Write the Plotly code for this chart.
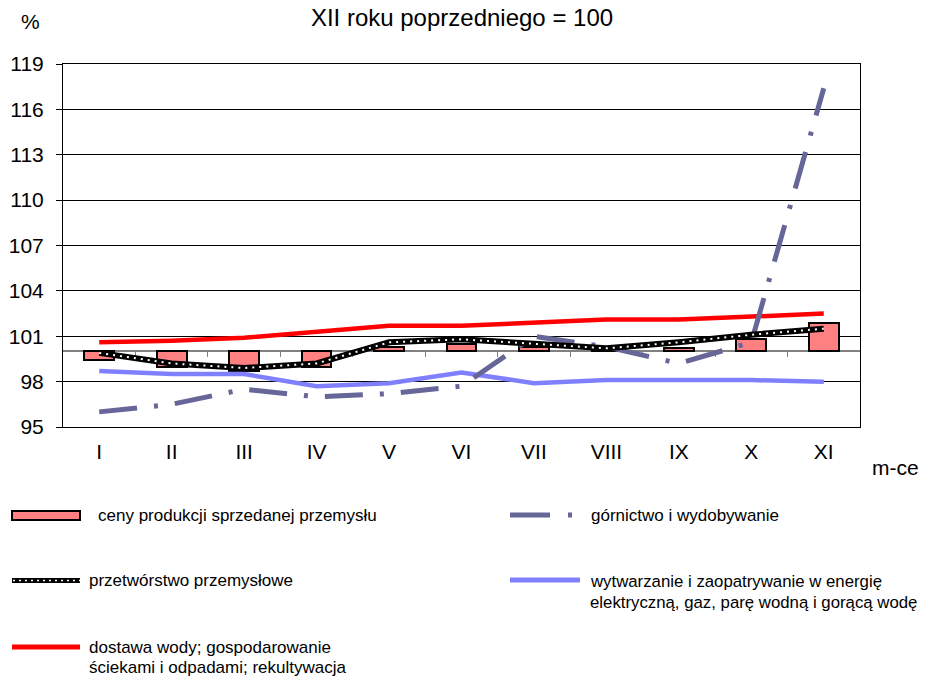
import plotly.graph_objects as go

# ---- data ----
months = ["I", "II", "III", "IV", "V", "VI", "VII", "VIII", "IX", "X", "XI"]
ceny_produkcji = [99.4, 99.0, 98.7, 99.0, 100.3, 100.5, 100.3, 100.1, 100.2, 100.8, 101.9]
gornictwo = [96.0, 96.5, 97.5, 97.0, 97.2, 97.7, 101.0, 100.3, 99.2, 100.6, 117.4]
przetworstwo = [99.9, 99.2, 98.9, 99.2, 100.6, 100.8, 100.5, 100.2, 100.6, 101.1, 101.5]
wytwarzanie = [98.7, 98.5, 98.5, 97.7, 97.9, 98.6, 97.9, 98.1, 98.1, 98.1, 98.0]
dostawa_wody = [100.6, 100.7, 100.9, 101.3, 101.7, 101.7, 101.9, 102.1, 102.1, 102.3, 102.5]
y_ticks = [95, 98, 101, 104, 107, 110, 113, 116, 119]
base_value = 100

names = {
    "ceny": "ceny produkcji sprzedanej przemysłu",
    "gorn": "górnictwo i wydobywanie",
    "przet": "przetwórstwo przemysłowe",
    "wytw": ["wytwarzanie i zaopatrywanie w energię", "elektryczną, gaz, parę wodną i gorącą wodę"],
    "dost": ["dostawa wody; gospodarowanie", "ściekami i odpadami; rekultywacja"],
}

FONT = "Liberation Sans, Arial, sans-serif"
W, H = 928, 677
ML, MR, MT, MB = 63, 68, 64, 250
PW, PH = W - ML - MR, H - MT - MB

def px_x(px):
    return (px - ML) / PW

def px_y(py):
    return (H - MB - py) / PH

idx = list(range(len(months)))
fig = go.Figure()

fig.add_trace(go.Bar(
    x=idx, y=[v - base_value for v in ceny_produkcji], base=base_value,
    width=0.41, marker=dict(color="#FF8080", line=dict(color="black", width=2)),
    name=names["ceny"], showlegend=False, hoverinfo="skip",
))
fig.add_trace(go.Scatter(
    x=idx, y=dostawa_wody, mode="lines", line=dict(color="#FF0000", width=4.5),
    showlegend=False, hoverinfo="skip",
))
fig.add_trace(go.Scatter(
    x=idx, y=wytwarzanie, mode="lines", line=dict(color="#8080FF", width=4.5),
    showlegend=False, hoverinfo="skip",
))
fig.add_trace(go.Scatter(
    x=idx, y=gornictwo, mode="lines",
    line=dict(color="#666699", width=5, dash="38px,17px,4px,17px"),
    showlegend=False, hoverinfo="skip",
))
fig.add_trace(go.Scatter(
    x=idx, y=przetworstwo, mode="lines", line=dict(color="black", width=6),
    showlegend=False, hoverinfo="skip",
))
fig.add_trace(go.Scatter(
    x=idx, y=przetworstwo, mode="lines", line=dict(color="white", width=2, dash="2px,5px"),
    showlegend=False, hoverinfo="skip",
))
# invisible trace to host the "100" crossing axis
fig.add_trace(go.Scatter(x=[None], y=[None], xaxis="x2", yaxis="y",
                         showlegend=False, hoverinfo="skip"))

shapes = []
annotations = []

def text(s, x, y, size=17, xanchor="left"):
    annotations.append(dict(text=s, x=px_x(x), y=px_y(y), xref="paper", yref="paper",
                            showarrow=False, xanchor=xanchor, yanchor="middle",
                            font=dict(size=size, color="black", family=FONT)))

# legend (manual)
shapes.append(dict(type="rect", xref="paper", yref="paper",
                   x0=px_x(12), x1=px_x(80), y0=px_y(511), y1=px_y(520),
                   fillcolor="#FF8080", line=dict(color="black", width=2)))
text(names["ceny"], 96, 515)

shapes.append(dict(type="line", xref="paper", yref="paper",
                   x0=px_x(12), x1=px_x(80), y0=px_y(580.5), y1=px_y(580.5),
                   line=dict(color="black", width=5)))
shapes.append(dict(type="line", xref="paper", yref="paper",
                   x0=px_x(13), x1=px_x(80), y0=px_y(580.5), y1=px_y(580.5),
                   line=dict(color="white", width=1.5, dash="2px,4px")))
text(names["przet"], 87, 580)

shapes.append(dict(type="line", xref="paper", yref="paper",
                   x0=px_x(12), x1=px_x(80), y0=px_y(647), y1=px_y(647),
                   line=dict(color="#FF0000", width=5)))
text(names["dost"][0], 87, 647)
text(names["dost"][1], 87, 667)

shapes.append(dict(type="line", xref="paper", yref="paper",
                   x0=px_x(510), x1=px_x(573), y0=px_y(515), y1=px_y(515),
                   line=dict(color="#666699", width=5, dash="40px,18px,4px,18px")))
text(names["gorn"], 589, 515)

shapes.append(dict(type="line", xref="paper", yref="paper",
                   x0=px_x(510), x1=px_x(580), y0=px_y(580), y1=px_y(580),
                   line=dict(color="#8080FF", width=5)))
text(names["wytw"][0], 588, 581, size=16.8)
text(names["wytw"][1], 588, 602, size=16.8)

# "%" and "m-ce"
text("%", 30, 21, size=21, xanchor="center")
text("m-ce", 896, 467, size=21, xanchor="center")

fig.update_layout(
    width=W, height=H, autosize=False,
    margin=dict(l=ML, r=MR, t=MT, b=MB, pad=0),
    paper_bgcolor="white", plot_bgcolor="white",
    font=dict(family=FONT, color="black", size=21),
    title=dict(text="XII roku poprzedniego = 100", x=462 / W, xanchor="center",
               y=1 - 18 / H, yanchor="middle", font=dict(size=24, family=FONT, color="black"),
               automargin=False),
    showlegend=False,
    bargap=0,
    xaxis=dict(range=[-0.5, len(months) - 0.5], tickmode="array", tickvals=idx, ticktext=months,
               showgrid=False, zeroline=False, showline=True, linecolor="black", linewidth=1,
               mirror=True, ticks="", tickfont=dict(size=21), ticklabelstandoff=6,
               automargin=False),
    xaxis2=dict(overlaying="x", anchor="free", position=(base_value - y_ticks[0]) / (y_ticks[-1] - y_ticks[0]),
                range=[-0.5, len(months) - 0.5], tickmode="array",
                tickvals=[i + 0.5 for i in idx[:-1]], showticklabels=False, showgrid=False,
                zeroline=False, showline=True, linecolor="#808080", linewidth=1.5,
                ticks="outside", ticklen=5, tickcolor="#808080", tickwidth=1, layer="below traces",
                automargin=False),
    yaxis=dict(range=[y_ticks[0], y_ticks[-1]], tickmode="array", tickvals=y_ticks,
               showgrid=True, gridcolor="black", gridwidth=1, zeroline=False,
               showline=True, linecolor="black", linewidth=1, mirror=True,
               ticks="outside", ticklen=6, tickcolor="black", tickfont=dict(size=21),
               ticklabelstandoff=8, automargin=False),
    shapes=shapes,
    annotations=annotations,
)

fig.write_html("out.html", config={"displayModeBar": False},
               post_script="document.body.style.margin='0';document.body.style.overflow='hidden';")
